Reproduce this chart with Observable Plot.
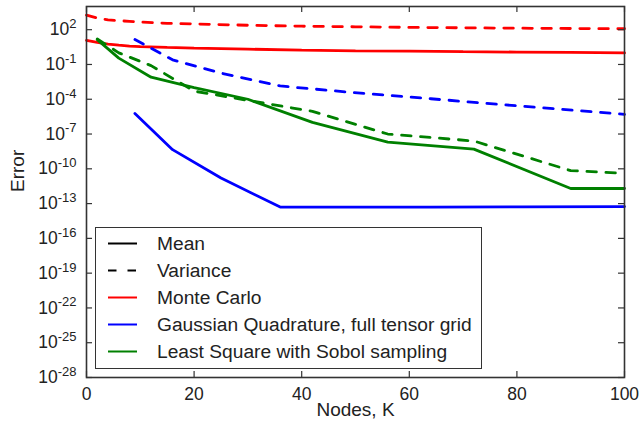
<!DOCTYPE html>
<html><head><meta charset="utf-8">
<script src="https://cdn.jsdelivr.net/npm/d3@7"></script>
<script src="https://cdn.jsdelivr.net/npm/@observablehq/plot@0.6"></script>
<style>
body{margin:0;background:#fff;font-family:"Liberation Sans",Arial,sans-serif;}
#wrap{position:relative;width:641px;height:425px;overflow:hidden;}
#legend{position:absolute;left:95px;top:227px;width:387px;height:142px;border:1.5px solid #333;background:#fff;box-sizing:border-box;}
.row{position:absolute;left:0;height:27px;width:100%;}
.row svg{position:absolute;left:12px;top:0;}
.row span{position:absolute;left:61px;top:0;line-height:27px;font-size:19.2px;color:#222;white-space:nowrap;}
</style>
</head><body>
<div id="wrap"></div>
<script>
// ---- data ----
const mcNodes = [0,2,4,6,8,10,15,20,30,40,50,60,70,80,90,100];
const mcMean = [12.0,7.9,5.6,4.6,3.8,3.5,3.0,2.6,2.1,1.7,1.5,1.4,1.26,1.17,1.1,1.0];
const mcVariance = [1780,1000,710,600,525,457,355,316,240,200,178,158,145,135,126,120];

const gqNodes = [9,16,25,36,49,64,81,100];
const gqMean = [5.9e-6,4.5e-9,1.6e-11,5e-14,5e-14,5e-14,5.2e-14,5.5e-14];
const gqVariance = [14,0.25,0.018,1.4e-3,4e-4,1.1e-4,2.5e-5,5e-6];

const lsNodes = [2,6,12,20,30,42,56,72,90,100];
const lsMean = [14,0.35,8e-3,1e-3,1e-4,1e-6,2e-8,5e-9,2e-12,2e-12];
const lsVariance = [16,1.0,0.08,5e-4,8e-5,9e-6,1e-7,2.5e-8,7e-11,4e-11];

const xTicks = [0,20,40,60,80,100];
const yTickExponents = [2,-1,-4,-7,-10,-13,-16,-19,-22,-25,-28];
const yTicks = yTickExponents.map(e => Math.pow(10, e));

const methods = ["Monte Carlo","Gaussian Quadrature, full tensor grid","Least Square with Sobol sampling"];
const colors = ["#ff0000","#0000ff","#008000"];
const moments = ["Mean","Variance"];
const DASH = "9.5,9.5";

const series = [
  {method: methods[0], moment: "Mean", nodes: mcNodes, values: mcMean},
  {method: methods[0], moment: "Variance", nodes: mcNodes, values: mcVariance},
  {method: methods[1], moment: "Mean", nodes: gqNodes, values: gqMean},
  {method: methods[1], moment: "Variance", nodes: gqNodes, values: gqVariance},
  {method: methods[2], moment: "Mean", nodes: lsNodes, values: lsMean},
  {method: methods[2], moment: "Variance", nodes: lsNodes, values: lsVariance}
];

const lineMarks = series.map(s => {
  const rows = s.nodes.map((n, i) => ({nodes: n, error: s.values[i]}));
  return Plot.line(rows, {
    x: "nodes", y: "error",
    stroke: colors[methods.indexOf(s.method)],
    strokeWidth: 2.8,
    strokeDasharray: s.moment === "Variance" ? DASH : null,
    strokeLinejoin: "miter"
  });
});

const plot = Plot.plot({
  width: 641, height: 425,
  marginLeft: 86, marginRight: 17, marginTop: 6, marginBottom: 48,
  x: {domain: [0, 100]},
  y: {type: "log", domain: [1e-28, 1e4]},
  style: {fontFamily: "'Liberation Sans', Arial, sans-serif", fontSize: "17.5px", color: "#222", background: "#fff"},
  marks: [
    ...lineMarks,
    Plot.ruleX(xTicks, {x: d => d, insetTop: 365, stroke: "#333", strokeWidth: 1.2}),
    Plot.ruleX(xTicks, {x: d => d, insetBottom: 365, stroke: "#333", strokeWidth: 1.2}),
    Plot.ruleY(yTicks, {y: d => d, insetRight: 532, stroke: "#333", strokeWidth: 1.2}),
    Plot.ruleY(yTicks, {y: d => d, insetLeft: 532, stroke: "#333", strokeWidth: 1.2}),
    Plot.frame({stroke: "#333", strokeWidth: 1.6}),
    Plot.axisX(xTicks, {tickSize: 0, tickPadding: 10, label: null, fontSize: 17.5}),
    Plot.axisY(yTicks, {tickSize: 0, tickPadding: 10, label: null, fontSize: 17.5,
      tickFormat: d => "10^" + Math.round(Math.log10(d))}),
    Plot.text(["Nodes, K"], {text: d => d, frameAnchor: "bottom", dy: 38, fontSize: 19, fill: "#222"}),
    Plot.text(["Error"], {text: d => d, frameAnchor: "left", dx: -69, rotate: -90, fontSize: 19, fill: "#222"})
  ]
});

// turn "10^e" labels into real superscripts
const NS = "http://www.w3.org/2000/svg";
plot.querySelectorAll("text").forEach(t => {
  const m = /^10\^(-?\d+)$/.exec(t.textContent);
  if (!m) return;
  while (t.firstChild) t.removeChild(t.firstChild);
  t.appendChild(document.createTextNode("10"));
  const sup = document.createElementNS(NS, "tspan");
  sup.setAttribute("dy", "-0.55em");
  sup.setAttribute("font-size", "13");
  sup.textContent = m[1];
  t.appendChild(sup);
});

const wrap = document.getElementById("wrap");
wrap.appendChild(plot);

// legend (inside the axes, as in the reference)
const legendItems = [
  {label: moments[0], color: "#000", dash: null},
  {label: moments[1], color: "#000", dash: "8.5,11"},
  {label: methods[0], color: colors[0], dash: null},
  {label: methods[1], color: colors[1], dash: null},
  {label: methods[2], color: colors[2], dash: null}
];
const legend = document.createElement("div");
legend.id = "legend";
legendItems.forEach((it, i) => {
  const row = document.createElement("div");
  row.className = "row";
  row.style.top = (2 + i * 27) + "px";
  const s = document.createElementNS(NS, "svg");
  s.setAttribute("width", "30"); s.setAttribute("height", "27");
  const l = document.createElementNS(NS, "line");
  l.setAttribute("x1", "0"); l.setAttribute("x2", "29");
  l.setAttribute("y1", "13.5"); l.setAttribute("y2", "13.5");
  l.setAttribute("stroke", it.color); l.setAttribute("stroke-width", "2");
  if (it.dash) l.setAttribute("stroke-dasharray", it.dash);
  s.appendChild(l);
  const sp = document.createElement("span");
  sp.textContent = it.label;
  row.appendChild(s); row.appendChild(sp);
  legend.appendChild(row);
});
wrap.appendChild(legend);
</script>
</body></html>
